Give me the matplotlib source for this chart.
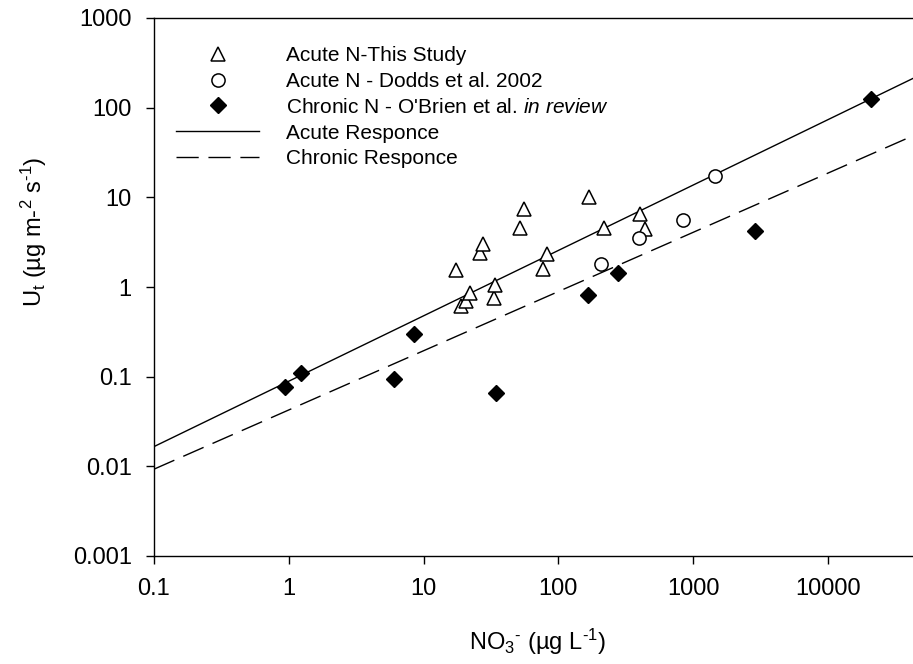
import matplotlib
matplotlib.use("Agg")
import matplotlib.pyplot as plt
from matplotlib.ticker import FixedLocator, FixedFormatter, NullLocator

plt.rcParams["font.family"] = ["Liberation Sans", "DejaVu Sans"]
plt.rcParams["mathtext.fontset"] = "custom"
plt.rcParams["mathtext.rm"] = "Liberation Sans"
plt.rcParams["mathtext.it"] = "Liberation Sans:italic"
plt.rcParams["mathtext.default"] = "regular"
plt.rcParams["lines.scale_dashes"] = False

# acute N - this study
tri_x = [17.3, 18.8, 20.7, 22.2, 26.4, 27.8, 33.2, 34.1, 52.0, 55.7, 76.5, 82.9, 168, 218, 403, 439]
tri_y = [1.55, 0.61, 0.69, 0.85, 2.38, 2.99, 0.76, 1.05, 4.6, 7.5, 1.57, 2.31, 10.2, 4.6, 6.6, 4.4]

# acute N - Dodds et al. 2002
circ_x = [207, 398, 833, 1449]
circ_y = [1.8, 3.5, 5.6, 17.3]

# chronic N - O'Brien et al.
dia_x = [0.93, 1.24, 6.0, 8.48, 34.5, 165, 275, 2877, 20700]
dia_y = [0.0775, 0.109, 0.0935, 0.297, 0.066, 0.81, 1.42, 4.24, 124]

# regression lines (end points)
acute_x = [0.1, 42700]
acute_y = [0.0166, 212]
chronic_x = [0.1, 42700]
chronic_y = [0.0093, 48.6]

x_ticks = [0.1, 1, 10, 100, 1000, 10000]
x_labels = ["0.1", "1", "10", "100", "1000", "10000"]
y_ticks = [0.001, 0.01, 0.1, 1, 10, 100, 1000]
y_labels = ["0.001", "0.01", "0.1", "1", "10", "100", "1000"]

W, H = 913, 664
fig = plt.figure(figsize=(W / 100, H / 100), dpi=100)
ax = fig.add_axes([154 / W, 1 - 556 / H, 1 - 154 / W, (556 - 18) / H])

ax.plot(tri_x, tri_y, linestyle="none", marker="^", ms=9.5, mfc="white", mec="black",
        mew=1.1, label="Acute N-This Study", zorder=3)
ax.plot(circ_x, circ_y, linestyle="none", marker="o", ms=9.5, mfc="white", mec="black",
        mew=1.1, label="Acute N - Dodds et al. 2002", zorder=3)
ax.plot(dia_x, dia_y, linestyle="none", marker="D", ms=8.5, mfc="black", mec="black",
        label="Chronic N - O'Brien et al. $\\mathit{in\\ review}$", zorder=3)
ax.plot(acute_x, acute_y, color="black", lw=1.0, label="Acute Responce", zorder=2)
ax.plot(chronic_x, chronic_y, color="black", lw=1.0, linestyle=(0, (16, 7)),
        label="Chronic Responce", zorder=2)

ax.set_xscale("log")
ax.set_yscale("log")
ax.set_xlim(0.1, 42700)
ax.set_ylim(0.001, 1000)

ax.xaxis.set_major_locator(FixedLocator(x_ticks))
ax.xaxis.set_major_formatter(FixedFormatter(x_labels))
ax.xaxis.set_minor_locator(NullLocator())
ax.yaxis.set_major_locator(FixedLocator(y_ticks))
ax.yaxis.set_major_formatter(FixedFormatter(y_labels))
ax.yaxis.set_minor_locator(NullLocator())

ax.tick_params(axis="both", direction="out", length=6, width=1.0, labelsize=17, colors="black")
ax.tick_params(axis="x", pad=10)
ax.tick_params(axis="y", pad=10)
ax.spines["right"].set_visible(False)
for s in ["left", "bottom", "top"]:
    ax.spines[s].set_linewidth(1.0)

fig.text(537 / W, 1 - 642 / H, "NO$_3$$^{\\text{-}}$ (µg L$^{\\text{-}1}$)", fontsize=17,
         ha="center", va="center")
fig.text(34 / W, 1 - 232 / H, "U$_t$ (µg m-$^2$ s$^{\\text{-}1}$)", fontsize=17,
         ha="center", va="center", rotation=90)

ax.legend(loc="upper left", bbox_to_anchor=(176 / W, 1 - 46 / H),
          bbox_transform=fig.transFigure, frameon=False, fontsize=15,
          handlelength=4.0, handletextpad=1.3, labelspacing=0.33,
          borderpad=0, borderaxespad=0, numpoints=1)

fig.savefig("out.png", dpi=100)
